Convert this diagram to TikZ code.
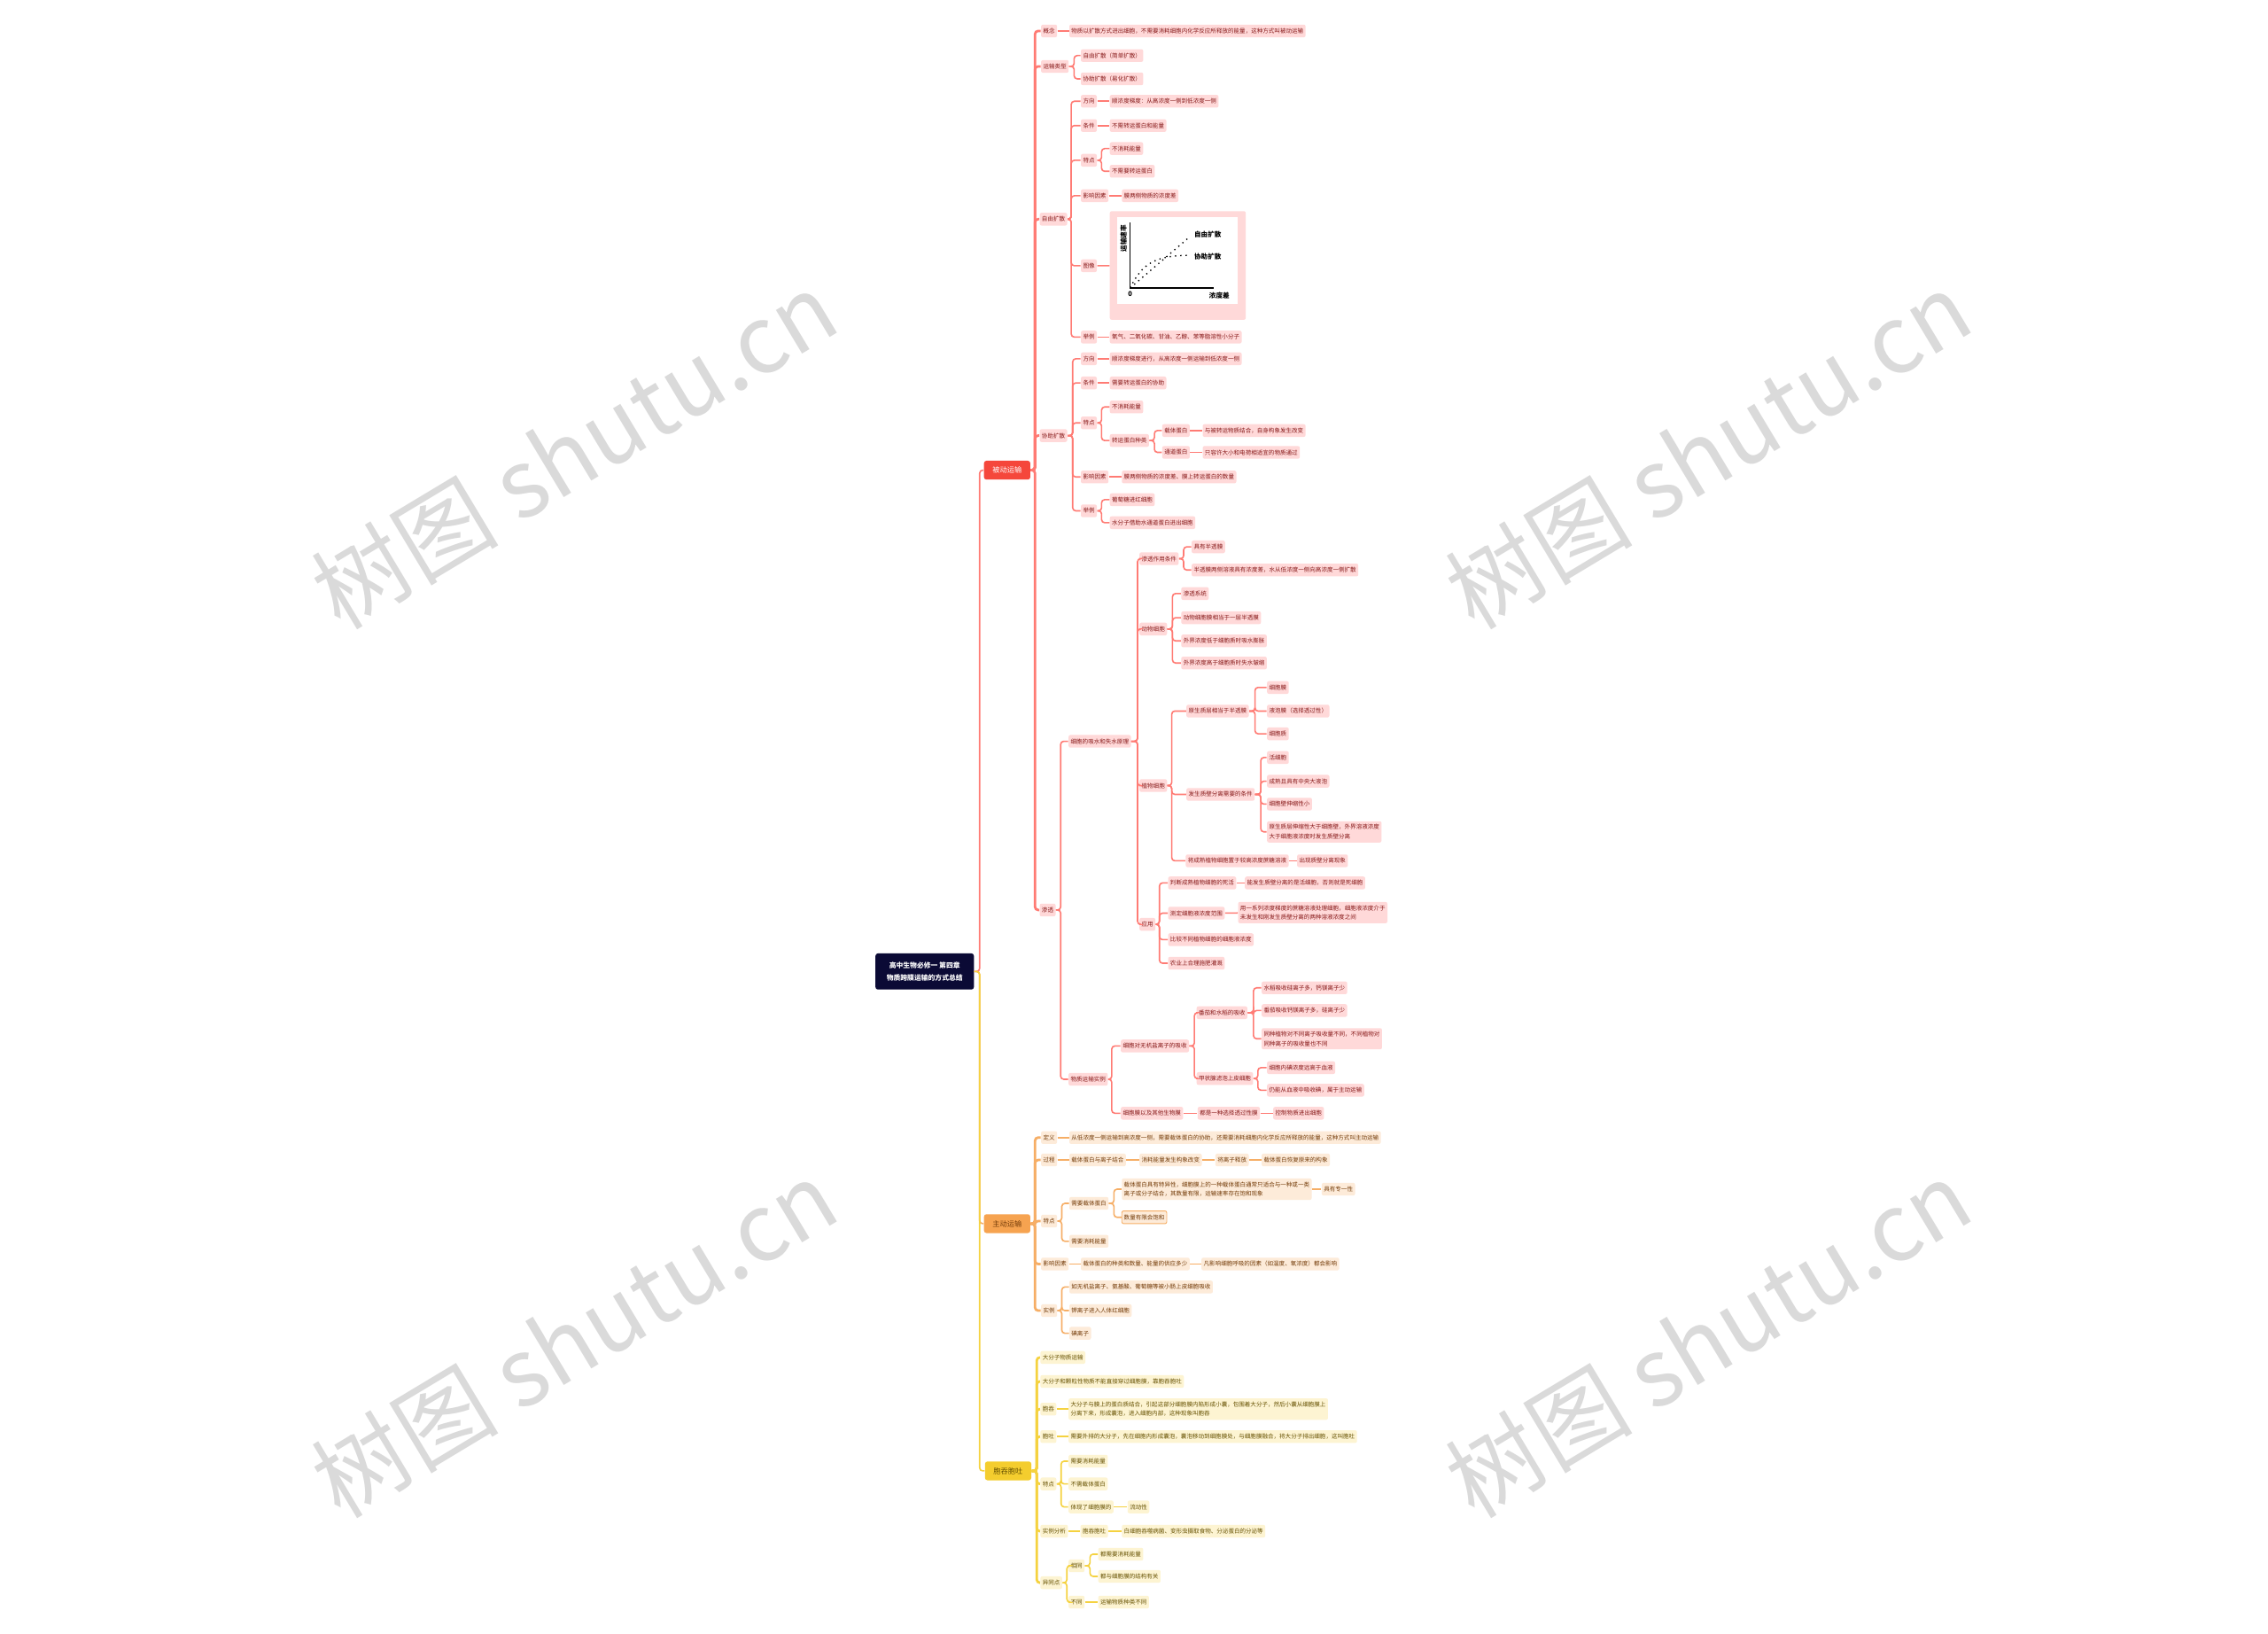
\documentclass[tikz,border=0pt]{standalone}
\usepackage{fontspec}
\setmainfont{Noto Sans CJK SC}
\usepackage{xcolor}
\usepackage{tikz}

\definecolor{rootblue}{HTML}{0B0A35}
\definecolor{redmain}{HTML}{F5473B}
\definecolor{redline}{HTML}{FF7B74}
\definecolor{redfill}{HTML}{FFD9D9}
\definecolor{redtext}{HTML}{861717}
\definecolor{orgmain}{HTML}{F6A350}
\definecolor{orgline}{HTML}{F6AE66}
\definecolor{orgfill}{HTML}{FDEBD9}
\definecolor{orgtext}{HTML}{733B08}
\definecolor{ylwmain}{HTML}{F4CD2E}
\definecolor{ylwline}{HTML}{F5D240}
\definecolor{ylwfill}{HTML}{FDF4D2}
\definecolor{ylwtext}{HTML}{655000}
\definecolor{wmgray}{HTML}{DADADA}

\newcommand\leaffont{\fontsize{2.85pt}{4.6pt}\selectfont}
\newcommand\topicfont{\fontsize{3.6pt}{4.4pt}\selectfont}
\newcommand\rootfont{\fontsize{3.4pt}{6.2pt}\selectfont\bfseries}
\newcommand\graphfont{\fontsize{3.3pt}{4pt}\selectfont\bfseries}
\newcommand\markfont{\fontsize{46pt}{48pt}\selectfont}

\tikzset{
	leafbox/.style={anchor=west, inner xsep=1.07pt, inner ysep=1.6pt, minimum height=6.25pt, rounded corners=0.9pt, font=\leaffont, align=left},
	redbox/.style={leafbox, fill=redfill, text=redtext},
	orgbox/.style={leafbox, fill=orgfill, text=orgtext},
	ylwbox/.style={leafbox, fill=ylwfill, text=ylwtext},
	topic/.style={anchor=west, minimum width=0.8cm, minimum height=0.325cm, inner sep=0pt, rounded corners=1.2pt, font=\topicfont},
	rootbox/.style={anchor=west, fill=rootblue, text=white, minimum width=1.7cm, minimum height=0.625cm, inner sep=0pt, rounded corners=1.2pt, font=\rootfont, align=center},
	redlink/.style={draw=redline, line width=0.7pt, rounded corners=1.5pt},
	redtrunk/.style={draw=redline, line width=1.2pt, rounded corners=1.5pt},
	orglink/.style={draw=orgline, line width=0.7pt, rounded corners=1.5pt},
	orgtrunk/.style={draw=orgline, line width=1.2pt, rounded corners=1.5pt},
	ylwlink/.style={draw=ylwline, line width=0.7pt, rounded corners=1.5pt},
	ylwtrunk/.style={draw=ylwline, line width=1.2pt, rounded corners=1.5pt},
	wmark/.style={rotate=31, text=wmgray, font=\markfont}
}

\begin{document}
\begin{tikzpicture}[x=0.025cm, y=-0.025cm]
	\fill[white] (0,0) rectangle (1568,1129);
	
	%Watermarks
	\node[wmark] (wm1) at (397,311) {树图 shutu.cn};
	\node[wmark] (wm2) at (1181,311) {树图 shutu.cn};
	\node[wmark] (wm3) at (397,925) {树图 shutu.cn};
	\node[wmark] (wm4) at (1181,925) {树图 shutu.cn};
	
	%Root
	\node[rootbox] (root) at (605,671.5) {高中生物必修一 第四章\\物质跨膜运输的方式总结};
	
	%Level 1
	\node[topic, fill=redmain, text=white] (passive) at (680,325) {被动运输};
	\node[topic, fill=orgmain, text=orgtext] (active) at (680,845.8) {主动运输};
	\node[topic, fill=ylwmain, text=ylwtext] (bulk) at (680.7,1016.7) {胞吞胞吐};
	
	%Level 2 -- passive
	\node[redbox] (pdef) at (719.5,21.4) {概念};
	\node[redbox] (pdeft) at (739,21.4) {物质以扩散方式进出细胞，不需要消耗细胞内化学反应所释放的能量，这种方式叫被动运输};
	\node[redbox] (pkind) at (719.5,45.9) {运输类型};
	\node[redbox] (pkind1) at (747,38.4) {自由扩散（简单扩散）};
	\node[redbox] (pkind2) at (747,54.5) {协助扩散（易化扩散）};
	
	\node[redbox] (simple) at (718.5,151.5) {自由扩散};
	\node[redbox] (sdir) at (747,70) {方向};
	\node[redbox] (sdirt) at (767,70) {顺浓度梯度：从高浓度一侧到低浓度一侧};
	\node[redbox] (scon) at (747,86.8) {条件};
	\node[redbox] (scont) at (767,86.8) {不需转运蛋白和能量};
	\node[redbox] (sfea) at (747,110.8) {特点};
	\node[redbox] (sfea1) at (767,102.7) {不消耗能量};
	\node[redbox] (sfea2) at (767,118.4) {不需要转运蛋白};
	\node[redbox] (sfac) at (747,135.3) {影响因素};
	\node[redbox] (sfact) at (775.3,135.3) {膜两侧物质的浓度差};
	\node[redbox] (simg) at (747,183.7) {图像};
	\node[redbox, minimum width=2.35cm, minimum height=1.875cm, inner sep=0pt] (sgraph) at (767,183.5) {};
	\node[redbox] (sex) at (747,233) {举例};
	\node[redbox] (sext) at (767,233) {氧气、二氧化碳、甘油、乙醇、苯等脂溶性小分子};
	
	%Graph
	\fill[white] (772.6,150) rectangle (855.7,209.8);
	\draw[line width=0.55pt] (781.4,154) -- (781.4,199) -- (839.4,199);
	\draw[dotted, line width=0.6pt] (781.4,199) -- (821,165);
	\draw[dotted, line width=0.6pt] (781.4,199) .. controls (790,181) and (800,177) .. (821,176.5);
	\node[font=\graphfont, rotate=90] (gy) at (776.8,165) {运输速率};
	\node[font=\graphfont] (g0) at (781.4,203.5) {0};
	\node[font=\graphfont] (g1) at (835,162.3) {自由扩散};
	\node[font=\graphfont] (g2) at (835,177.4) {协助扩散};
	\node[font=\graphfont] (gx) at (843,204.5) {浓度差};
	
	\node[redbox] (facil) at (718.5,301.1) {协助扩散};
	\node[redbox] (fdir) at (747,248) {方向};
	\node[redbox] (fdirt) at (767,248) {顺浓度梯度进行，从高浓度一侧运输到低浓度一侧};
	\node[redbox] (fcon) at (747,264.7) {条件};
	\node[redbox] (fcont) at (767,264.7) {需要转运蛋白的协助};
	\node[redbox] (ffea) at (747,292.3) {特点};
	\node[redbox] (ffea1) at (767,281.3) {不消耗能量};
	\node[redbox] (ffea2) at (767,304.5) {转运蛋白种类};
	\node[redbox] (fcar) at (803.2,297.6) {载体蛋白};
	\node[redbox] (fcart) at (831.2,297.6) {与被转运物质结合，自身构象发生改变};
	\node[redbox] (fchan) at (803.2,312.7) {通道蛋白};
	\node[redbox] (fchant) at (831.2,312.7) {只容许大小和电荷相适宜的物质通过};
	\node[redbox] (ffac) at (747,329.7) {影响因素};
	\node[redbox] (ffact) at (775.3,329.7) {膜两侧物质的浓度差、膜上转运蛋白的数量};
	\node[redbox] (fex) at (747,353.1) {举例};
	\node[redbox] (fex1) at (767,345.4) {葡萄糖进红细胞};
	\node[redbox] (fex2) at (767,361.3) {水分子借助水通道蛋白进出细胞};
	
	\node[redbox] (osmo) at (718.5,629) {渗透};
	\node[redbox] (absorb) at (738.5,512.4) {细胞的吸水和失水原理};
	\node[redbox] (cond) at (787.5,386.2) {渗透作用条件};
	\node[redbox] (cond1) at (823.6,378) {具有半透膜};
	\node[redbox] (cond2) at (823.6,394) {半透膜两侧溶液具有浓度差，水从低浓度一侧向高浓度一侧扩散};
	\node[redbox] (animal) at (787.5,434.8) {动物细胞};
	\node[redbox] (ani1) at (816.4,410.3) {渗透系统};
	\node[redbox] (ani2) at (816.4,427) {动物细胞膜相当于一层半透膜};
	\node[redbox] (ani3) at (816.4,443) {外界浓度低于细胞质时吸水膨胀};
	\node[redbox] (ani4) at (816.4,458.3) {外界浓度高于细胞质时失水皱缩};
	\node[redbox] (plant) at (787.5,543) {植物细胞};
	\node[redbox] (layer) at (820,491.5) {原生质层相当于半透膜};
	\node[redbox] (lay1) at (875.7,475.2) {细胞膜};
	\node[redbox] (lay2) at (875.7,491.5) {液泡膜（选择透过性）};
	\node[redbox] (lay3) at (875.7,507.2) {细胞质};
	\node[redbox] (sep) at (820,549.1) {发生质壁分离需要的条件};
	\node[redbox] (sep1) at (875.7,523.6) {活细胞};
	\node[redbox] (sep2) at (875.7,540) {成熟且具有中央大液泡};
	\node[redbox] (sep3) at (875.7,555.8) {细胞壁伸缩性小};
	\node[redbox] (sep4) at (875.7,575) {原生质层伸缩性大于细胞壁，外界溶液浓度\\大于细胞液浓度时发生质壁分离};
	\node[redbox] (plas) at (819.5,595) {将成熟植物细胞置于较高浓度蔗糖溶液};
	\node[redbox] (plast) at (896.5,595) {出现质壁分离现象};
	\node[redbox] (apply) at (787.5,638.9) {应用};
	\node[redbox] (app1) at (807.3,610.3) {判断成熟植物细胞的死活};
	\node[redbox] (app1t) at (860.4,610.3) {能发生质壁分离的是活细胞，否则就是死细胞};
	\node[redbox] (app2) at (807.3,631.2) {测定细胞液浓度范围};
	\node[redbox] (app2t) at (855.7,630.8) {用一系列浓度梯度的蔗糖溶液处理细胞，细胞液浓度介于\\未发生和刚发生质壁分离的两种溶液浓度之间};
	\node[redbox] (app3) at (807.3,649.5) {比较不同植物细胞的细胞液浓度};
	\node[redbox] (app4) at (807.3,665.8) {农业上合理施肥灌溉};
	
	\node[redbox] (other) at (738.5,746) {物质运输实例};
	\node[redbox] (ion) at (774.6,723) {细胞对无机盐离子的吸收};
	\node[redbox] (crop) at (827,700) {番茄和水稻的吸收};
	\node[redbox] (crop1) at (872,682.8) {水稻吸收硅离子多，钙镁离子少};
	\node[redbox] (crop2) at (872,698.5) {番茄吸收钙镁离子多，硅离子少};
	\node[redbox] (crop3) at (872,718) {同种植物对不同离子吸收量不同，不同植物对\\同种离子的吸收量也不同};
	\node[redbox] (thyr) at (827,745.5) {甲状腺滤泡上皮细胞};
	\node[redbox] (thyr1) at (875.7,738) {细胞内碘浓度远高于血液};
	\node[redbox] (thyr2) at (875.7,753.6) {仍能从血液中吸收碘，属于主动运输};
	\node[redbox] (memb) at (774.6,769.5) {细胞膜以及其他生物膜};
	\node[redbox] (membt) at (827.7,769.5) {都是一种选择透过性膜};
	\node[redbox] (membu) at (880,769.5) {控制物质进出细胞};
	
	%Level 2 -- active
	\node[orgbox] (adef) at (719.5,786.3) {定义};
	\node[orgbox] (adeft) at (739,786.3) {从低浓度一侧运输到高浓度一侧，需要载体蛋白的协助，还需要消耗细胞内化学反应所释放的能量，这种方式叫主动运输};
	\node[orgbox] (aproc) at (719.5,801.8) {过程};
	\node[orgbox] (ap1) at (739,801.8) {载体蛋白与离子结合};
	\node[orgbox] (ap2) at (787.5,801.8) {消耗能量发生构象改变};
	\node[orgbox] (ap3) at (840,801.8) {将离子释放};
	\node[orgbox] (ap4) at (872,801.8) {载体蛋白恢复原来的构象};
	\node[orgbox] (afea) at (719.5,844) {特点};
	\node[orgbox] (af1) at (739,831.8) {需要载体蛋白};
	\node[orgbox] (af1a) at (775.3,822) {载体蛋白具有特异性，细胞膜上的一种载体蛋白通常只适合与一种或一类\\离子或分子结合，其数量有限，运输速率存在饱和现象};
	\node[orgbox] (af1b) at (913.5,822) {具有专一性};
	\node[orgbox, draw=orgline, line width=0.4pt] (af1c) at (775.3,841.4) {数量有限会饱和};
	\node[orgbox] (af2) at (739,858) {需要消耗能量};
	\node[orgbox] (afac) at (719.5,873.7) {影响因素};
	\node[orgbox] (afac1) at (747,873.7) {载体蛋白的种类和数量、能量的供应多少};
	\node[orgbox] (afac2) at (830.4,873.7) {凡影响细胞呼吸的因素（如温度、氧浓度）都会影响};
	\node[orgbox] (aex) at (719.5,905.9) {实例};
	\node[orgbox] (aex1) at (739,889.6) {如无机盐离子、氨基酸、葡萄糖等被小肠上皮细胞吸收};
	\node[orgbox] (aex2) at (739,905.9) {钾离子进入人体红细胞};
	\node[orgbox] (aex3) at (739,921.6) {碘离子};
	
	%Level 2 -- bulk
	\node[ylwbox] (b1) at (719,938.3) {大分子物质运输};
	\node[ylwbox] (b2) at (719,954.9) {大分子和颗粒性物质不能直接穿过细胞膜，靠胞吞胞吐};
	\node[ylwbox] (bin) at (719,974) {胞吞};
	\node[ylwbox] (bint) at (738.5,974) {大分子与膜上的蛋白质结合，引起这部分细胞膜内陷形成小囊，包围着大分子，然后小囊从细胞膜上\\分离下来，形成囊泡，进入细胞内部，这种现象叫胞吞};
	\node[ylwbox] (bout) at (719,993) {胞吐};
	\node[ylwbox] (boutt) at (738.5,993) {需要外排的大分子，先在细胞内形成囊泡，囊泡移动到细胞膜处，与细胞膜融合，将大分子排出细胞，这叫胞吐};
	\node[ylwbox] (bfea) at (719,1025.7) {特点};
	\node[ylwbox] (bf1) at (738.5,1010) {需要消耗能量};
	\node[ylwbox] (bf2) at (738.5,1025.7) {不需载体蛋白};
	\node[ylwbox] (bf3) at (738.5,1041.6) {体现了细胞膜的};
	\node[ylwbox] (bf3a) at (779.3,1041.6) {流动性};
	\node[ylwbox] (bex) at (719,1058.4) {实例分析};
	\node[ylwbox] (bex1) at (746.7,1058.4) {胞吞胞吐};
	\node[ylwbox] (bex2) at (775.3,1058.4) {白细胞吞噬病菌、变形虫摄取食物、分泌蛋白的分泌等};
	\node[ylwbox] (bcmp) at (719,1094) {异同点};
	\node[ylwbox] (bsame) at (738.5,1082.3) {相同};
	\node[ylwbox] (bs1) at (759,1074.3) {都需要消耗能量};
	\node[ylwbox] (bs2) at (759,1089.6) {都与细胞膜的结构有关};
	\node[ylwbox] (bdiff) at (738.5,1107.4) {不同};
	\node[ylwbox] (bd1) at (759,1107.4) {运输物质种类不同};
	
	%Lines -- root
	\draw[redlink] (root.east) -- ++(3.7,0) |- (passive.west);
	\draw[orglink] (root.east) -- ++(3.7,0) |- (active.west);
	\draw[ylwlink] (root.east) -- ++(3.7,0) |- (bulk.west);
	
	%Lines -- passive
	\foreach \c in {pdef,pkind,simple,facil,osmo}
		\draw[redtrunk] (passive.east) -- ++(3,0) |- (\c.west);
	\draw[redlink] (pdef) -- (pdeft);
	\foreach \c in {pkind1,pkind2}
		\draw[redlink] (pkind.east) -- ++(3.5,0) |- (\c.west);
	\foreach \c in {sdir,scon,sfea,sfac,simg,sex}
		\draw[redlink] (simple.east) -- ++(2.5,0) |- (\c.west);
	\draw[redlink] (sdir) -- (sdirt);
	\draw[redlink] (scon) -- (scont);
	\foreach \c in {sfea1,sfea2}
		\draw[redlink] (sfea.east) -- ++(3,0) |- (\c.west);
	\draw[redlink] (sfac) -- (sfact);
	\draw[redlink] (simg) -- (sgraph);
	\draw[redlink] (sex) -- (sext);
	\foreach \c in {fdir,fcon,ffea,ffac,fex}
		\draw[redlink] (facil.east) -- ++(3.5,0) |- (\c.west);
	\draw[redlink] (fdir) -- (fdirt);
	\draw[redlink] (fcon) -- (fcont);
	\foreach \c in {ffea1,ffea2}
		\draw[redlink] (ffea.east) -- ++(3,0) |- (\c.west);
	\foreach \c in {fcar,fchan}
		\draw[redlink] (ffea2.east) -- ++(3.5,0) |- (\c.west);
	\draw[redlink] (fcar) -- (fcart);
	\draw[redlink] (fchan) -- (fchant);
	\draw[redlink] (ffac) -- (ffact);
	\foreach \c in {fex1,fex2}
		\draw[redlink] (fex.east) -- ++(3,0) |- (\c.west);
	\foreach \c in {absorb,other}
		\draw[redlink] (osmo.east) -- ++(3.2,0) |- (\c.west);
	\foreach \c in {cond,animal,plant,apply}
		\draw[redlink] (absorb.east) -- ++(4.3,0) |- (\c.west);
	\foreach \c in {cond1,cond2}
		\draw[redlink] (cond.east) -- ++(3.2,0) |- (\c.west);
	\foreach \c in {ani1,ani2,ani3,ani4}
		\draw[redlink] (animal.east) -- ++(3.5,0) |- (\c.west);
	\foreach \c in {layer,sep,plas}
		\draw[redlink] (plant.east) -- ++(3,0) |- (\c.west);
	\foreach \c in {lay1,lay2,lay3}
		\draw[redlink] (layer.east) -- ++(4,0) |- (\c.west);
	\foreach \c in {sep1,sep2,sep3,sep4}
		\draw[redlink] (sep.east) -- ++(4,0) |- (\c.west);
	\draw[redlink] (plas) -- (plast);
	\foreach \c in {app1,app2,app3,app4}
		\draw[redlink] (apply.east) -- ++(2.5,0) |- (\c.west);
	\draw[redlink] (app1) -- (app1t);
	\draw[redlink] (app2) -- (app2t);
	\foreach \c in {ion,memb}
		\draw[redlink] (other.east) -- ++(2.5,0) |- (\c.west);
	\foreach \c in {crop,thyr}
		\draw[redlink] (ion.east) -- ++(3.5,0) |- (\c.west);
	\foreach \c in {crop1,crop2,crop3}
		\draw[redlink] (crop.east) -- ++(4,0) |- (\c.west);
	\foreach \c in {thyr1,thyr2}
		\draw[redlink] (thyr.east) -- ++(3,0) |- (\c.west);
	\draw[redlink] (memb) -- (membt);
	\draw[redlink] (membt) -- (membu);
	
	%Lines -- active
	\foreach \c in {adef,aproc,afea,afac,aex}
		\draw[orgtrunk] (active.east) -- ++(3,0) |- (\c.west);
	\draw[orglink] (adef) -- (adeft);
	\draw[orglink] (aproc) -- (ap1);
	\draw[orglink] (ap1) -- (ap2);
	\draw[orglink] (ap2) -- (ap3);
	\draw[orglink] (ap3) -- (ap4);
	\foreach \c in {af1,af2}
		\draw[orglink] (afea.east) -- ++(3,0) |- (\c.west);
	\foreach \c in {af1a,af1c}
		\draw[orglink] (af1.east) -- ++(3.5,0) |- (\c.west);
	\draw[orglink] (af1a) -- (af1b);
	\draw[orglink] (afac) -- (afac1);
	\draw[orglink] (afac1) -- (afac2);
	\foreach \c in {aex1,aex2,aex3}
		\draw[orglink] (aex.east) -- ++(3,0) |- (\c.west);
	
	%Lines -- bulk
	\foreach \c in {b1,b2,bin,bout,bfea,bex,bcmp}
		\draw[ylwtrunk] (bulk.east) -- ++(3.5,0) |- (\c.west);
	\draw[ylwlink] (bin) -- (bint);
	\draw[ylwlink] (bout) -- (boutt);
	\foreach \c in {bf1,bf2,bf3}
		\draw[ylwlink] (bfea.east) -- ++(3,0) |- (\c.west);
	\draw[ylwlink] (bf3) -- (bf3a);
	\draw[ylwlink] (bex) -- (bex1);
	\draw[ylwlink] (bex1) -- (bex2);
	\foreach \c in {bsame,bdiff}
		\draw[ylwlink] (bcmp.east) -- ++(3,0) |- (\c.west);
	\foreach \c in {bs1,bs2}
		\draw[ylwlink] (bsame.east) -- ++(3.5,0) |- (\c.west);
	\draw[ylwlink] (bdiff) -- (bd1);
\end{tikzpicture}
\end{document}
